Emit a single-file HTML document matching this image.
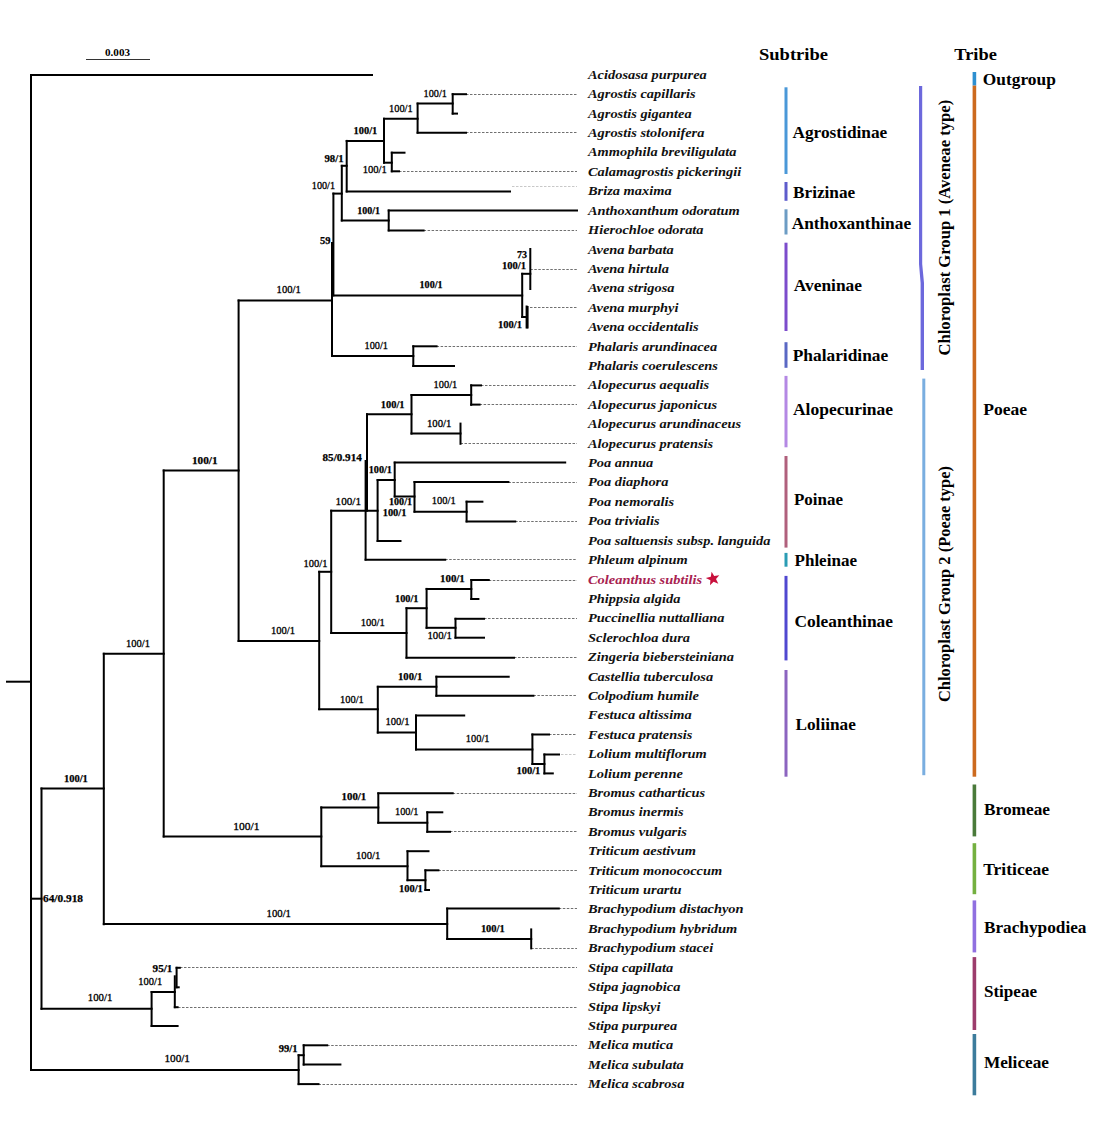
<!DOCTYPE html><html><head><meta charset="utf-8"><title>Phylogenetic tree</title>
<style>html,body{margin:0;padding:0;background:#fff;}body{width:1100px;height:1127px;overflow:hidden;}svg{display:block;font-family:"Liberation Serif",serif;}</style></head><body>
<svg width="1100" height="1127" viewBox="0 0 1100 1127">
<rect width="1100" height="1127" fill="#fff"/>
<line x1="86" y1="59.5" x2="150" y2="59.5" stroke="#333" stroke-width="1"/>
<text x="105" y="56" font-size="10.5" font-weight="bold" textLength="25" lengthAdjust="spacingAndGlyphs">0.003</text>
<g stroke="#707070" stroke-width="1" stroke-dasharray="2.5 1.5">
<line x1="466" y1="94.5" x2="577" y2="94.5"/>
<line x1="466" y1="132.5" x2="577" y2="132.5"/>
<line x1="399" y1="171.5" x2="577" y2="171.5"/>
<line x1="423.6" y1="230.5" x2="577" y2="230.5"/>
<line x1="530.3" y1="269.5" x2="577" y2="269.5"/>
<line x1="530" y1="307.5" x2="577" y2="307.5"/>
<line x1="436.6" y1="346.5" x2="577" y2="346.5"/>
<line x1="481" y1="385.5" x2="577" y2="385.5"/>
<line x1="479.6" y1="404.5" x2="577" y2="404.5"/>
<line x1="460.5" y1="443.5" x2="577" y2="443.5"/>
<line x1="508.4" y1="482.5" x2="577" y2="482.5"/>
<line x1="515.2" y1="521.5" x2="577" y2="521.5"/>
<line x1="445.2" y1="559.5" x2="577" y2="559.5"/>
<line x1="488.8" y1="580.5" x2="577" y2="580.5"/>
<line x1="484" y1="618.5" x2="577" y2="618.5"/>
<line x1="514" y1="657.5" x2="577" y2="657.5"/>
<line x1="533.4" y1="695.5" x2="577" y2="695.5"/>
<line x1="549" y1="734.5" x2="577" y2="734.5"/>
<line x1="452.7" y1="793.5" x2="577" y2="793.5"/>
<line x1="450" y1="831.5" x2="577" y2="831.5"/>
<line x1="438.4" y1="870.5" x2="577" y2="870.5"/>
<line x1="558.8" y1="908.5" x2="577" y2="908.5"/>
<line x1="531.2" y1="948.5" x2="577" y2="948.5"/>
<line x1="180" y1="967.5" x2="577" y2="967.5"/>
<line x1="178" y1="1007.5" x2="577" y2="1007.5"/>
<line x1="327.2" y1="1045.5" x2="577" y2="1045.5"/>
<line x1="318.5" y1="1084.5" x2="577" y2="1084.5"/>
</g>
<g stroke="#c8c8c8" stroke-width="1" stroke-dasharray="2.5 1.5"><line x1="512" y1="186.5" x2="577" y2="186.5"/><line x1="561" y1="754.5" x2="577" y2="754.5"/></g>
<g stroke="#000" stroke-width="2" stroke-linecap="square">
<line x1="31" y1="75" x2="31" y2="1070"/>
<line x1="41.5" y1="788.5" x2="41.5" y2="1008.8"/>
<line x1="103.8" y1="653.7" x2="103.8" y2="924.2"/>
<line x1="163.7" y1="470.5" x2="163.7" y2="836.5"/>
<line x1="238.6" y1="300.5" x2="238.6" y2="641"/>
<line x1="333.4" y1="193.6" x2="333.4" y2="295.4"/>
<line x1="332" y1="243" x2="332" y2="356"/>
<line x1="341.8" y1="165.8" x2="341.8" y2="220.5"/>
<line x1="346.7" y1="140.9" x2="346.7" y2="191.5"/>
<line x1="384" y1="118.7" x2="384" y2="162.7"/>
<line x1="417.6" y1="103.6" x2="417.6" y2="132.7"/>
<line x1="452.7" y1="94.2" x2="452.7" y2="113.6"/>
<line x1="391.8" y1="152.7" x2="391.8" y2="171.3"/>
<line x1="388.7" y1="210.5" x2="388.7" y2="230.4"/>
<line x1="522.2" y1="273.8" x2="522.2" y2="317"/>
<line x1="530.3" y1="249" x2="530.3" y2="289"/>
<line x1="526.6" y1="306.5" x2="526.6" y2="327.5"/>
<line x1="527.6" y1="307" x2="527.6" y2="327.5"/>
<line x1="413.3" y1="346.3" x2="413.3" y2="366"/>
<line x1="319.2" y1="571.8" x2="319.2" y2="709.2"/>
<line x1="331.2" y1="510.7" x2="331.2" y2="632.9"/>
<line x1="367" y1="414.3" x2="367" y2="510.7"/>
<line x1="365.6" y1="461" x2="365.6" y2="559.6"/>
<line x1="411.5" y1="395" x2="411.5" y2="433.6"/>
<line x1="471.2" y1="385.3" x2="471.2" y2="404.8"/>
<line x1="460.5" y1="423.6" x2="460.5" y2="443.8"/>
<line x1="377.6" y1="480" x2="377.6" y2="541"/>
<line x1="394.7" y1="462.6" x2="394.7" y2="496.5"/>
<line x1="414.5" y1="482" x2="414.5" y2="511.7"/>
<line x1="466.6" y1="501.7" x2="466.6" y2="521.4"/>
<line x1="406.5" y1="608.2" x2="406.5" y2="657.6"/>
<line x1="426.6" y1="588.9" x2="426.6" y2="627.8"/>
<line x1="471.3" y1="580" x2="471.3" y2="599"/>
<line x1="455.5" y1="618.8" x2="455.5" y2="637.7"/>
<line x1="377.8" y1="686.8" x2="377.8" y2="732.6"/>
<line x1="436.4" y1="676.7" x2="436.4" y2="695.8"/>
<line x1="416" y1="715.5" x2="416" y2="749.6"/>
<line x1="532.4" y1="734.5" x2="532.4" y2="764"/>
<line x1="544.4" y1="754.5" x2="544.4" y2="773.4"/>
<line x1="321.3" y1="807.4" x2="321.3" y2="866.2"/>
<line x1="378.3" y1="793.4" x2="378.3" y2="822.7"/>
<line x1="427.3" y1="812.3" x2="427.3" y2="831.8"/>
<line x1="407.5" y1="851.3" x2="407.5" y2="880.2"/>
<line x1="425.4" y1="870.3" x2="425.4" y2="890"/>
<line x1="447.2" y1="908.6" x2="447.2" y2="938.9"/>
<line x1="531.2" y1="929.4" x2="531.2" y2="948.4"/>
<line x1="151.6" y1="992" x2="151.6" y2="1026"/>
<line x1="176.6" y1="967.8" x2="176.6" y2="987.3"/>
<line x1="174.8" y1="976.3" x2="174.8" y2="1007.2"/>
<line x1="298.6" y1="1055.2" x2="298.6" y2="1084.1"/>
<line x1="303.7" y1="1045.3" x2="303.7" y2="1064.6"/>
<line x1="31" y1="75" x2="372" y2="75"/>
<line x1="7" y1="681.7" x2="31" y2="681.7"/>
<line x1="31" y1="898.7" x2="41.5" y2="898.7"/>
<line x1="31" y1="1070" x2="298.6" y2="1070"/>
<line x1="41.5" y1="788.5" x2="103.8" y2="788.5"/>
<line x1="41.5" y1="1008.8" x2="151.6" y2="1008.8"/>
<line x1="103.8" y1="653.7" x2="163.7" y2="653.7"/>
<line x1="103.8" y1="924" x2="447.2" y2="924"/>
<line x1="163.7" y1="470.5" x2="238.6" y2="470.5"/>
<line x1="163.7" y1="836.5" x2="321.3" y2="836.5"/>
<line x1="238.6" y1="300.5" x2="332" y2="300.5"/>
<line x1="238.6" y1="641" x2="319.2" y2="641"/>
<line x1="333.4" y1="193.6" x2="341.8" y2="193.6"/>
<line x1="333.4" y1="295.4" x2="522.2" y2="295.4"/>
<line x1="332" y1="356" x2="413.3" y2="356"/>
<line x1="341.8" y1="165.8" x2="346.7" y2="165.8"/>
<line x1="341.8" y1="220.5" x2="388.7" y2="220.5"/>
<line x1="346.7" y1="140.9" x2="384" y2="140.9"/>
<line x1="346.7" y1="191.5" x2="510" y2="191.5"/>
<line x1="384" y1="118.7" x2="417.6" y2="118.7"/>
<line x1="384" y1="162.7" x2="391.8" y2="162.7"/>
<line x1="417.6" y1="103.6" x2="452.7" y2="103.6"/>
<line x1="417.6" y1="132.7" x2="466" y2="132.7"/>
<line x1="452.7" y1="94.2" x2="466" y2="94.2"/>
<line x1="452.7" y1="113.6" x2="457" y2="113.6"/>
<line x1="391.8" y1="152.7" x2="404.5" y2="152.7"/>
<line x1="391.8" y1="171.3" x2="399" y2="171.3"/>
<line x1="388.7" y1="210.5" x2="577" y2="210.5"/>
<line x1="388.7" y1="230.4" x2="423.6" y2="230.4"/>
<line x1="522.2" y1="273.8" x2="530.3" y2="273.8"/>
<line x1="522.2" y1="317" x2="526.6" y2="317"/>
<line x1="413.3" y1="346.3" x2="436.6" y2="346.3"/>
<line x1="413.3" y1="366" x2="454" y2="366"/>
<line x1="319.2" y1="571.8" x2="331.2" y2="571.8"/>
<line x1="319.2" y1="709.2" x2="377.8" y2="709.2"/>
<line x1="331.2" y1="510.7" x2="377.6" y2="510.7"/>
<line x1="331.2" y1="632.9" x2="406.5" y2="632.9"/>
<line x1="367" y1="414.3" x2="411.5" y2="414.3"/>
<line x1="365.6" y1="559.8" x2="445.2" y2="559.8"/>
<line x1="411.5" y1="395" x2="471.2" y2="395"/>
<line x1="411.5" y1="433.6" x2="460.5" y2="433.6"/>
<line x1="471.2" y1="385.4" x2="481" y2="385.4"/>
<line x1="471.2" y1="404.6" x2="479.6" y2="404.6"/>
<line x1="377.6" y1="480" x2="394.7" y2="480"/>
<line x1="377.6" y1="541" x2="400.5" y2="541"/>
<line x1="394.7" y1="462.6" x2="565.2" y2="462.6"/>
<line x1="394.7" y1="496.5" x2="414.5" y2="496.5"/>
<line x1="414.5" y1="482" x2="508.4" y2="482"/>
<line x1="414.5" y1="511.7" x2="466.6" y2="511.7"/>
<line x1="466.6" y1="501.7" x2="482.4" y2="501.7"/>
<line x1="466.6" y1="521.4" x2="515.2" y2="521.4"/>
<line x1="406.5" y1="608.2" x2="426.6" y2="608.2"/>
<line x1="406.5" y1="657.7" x2="514" y2="657.7"/>
<line x1="426.6" y1="588.9" x2="471.3" y2="588.9"/>
<line x1="426.6" y1="627.8" x2="455.5" y2="627.8"/>
<line x1="471.3" y1="580" x2="488.8" y2="580"/>
<line x1="471.3" y1="599" x2="478.4" y2="599"/>
<line x1="455.5" y1="618.8" x2="484" y2="618.8"/>
<line x1="455.5" y1="637.7" x2="484" y2="637.7"/>
<line x1="377.8" y1="686.8" x2="436.4" y2="686.8"/>
<line x1="377.8" y1="732.6" x2="416" y2="732.6"/>
<line x1="436.4" y1="676.7" x2="508.7" y2="676.7"/>
<line x1="436.4" y1="695.7" x2="533.4" y2="695.7"/>
<line x1="416" y1="715.5" x2="464.2" y2="715.5"/>
<line x1="416" y1="749.6" x2="532.4" y2="749.6"/>
<line x1="532.4" y1="734.5" x2="549" y2="734.5"/>
<line x1="532.4" y1="764" x2="544.4" y2="764"/>
<line x1="544.4" y1="754.5" x2="559" y2="754.5"/>
<line x1="544.4" y1="773.4" x2="552.8" y2="773.4"/>
<line x1="321.3" y1="807.4" x2="378.3" y2="807.4"/>
<line x1="321.3" y1="866.2" x2="407.5" y2="866.2"/>
<line x1="378.3" y1="793.2" x2="452.7" y2="793.2"/>
<line x1="378.3" y1="822.7" x2="427.3" y2="822.7"/>
<line x1="427.3" y1="812.3" x2="442.3" y2="812.3"/>
<line x1="427.3" y1="831.8" x2="450" y2="831.8"/>
<line x1="407.5" y1="851.2" x2="428.5" y2="851.2"/>
<line x1="407.5" y1="880.2" x2="425.4" y2="880.2"/>
<line x1="425.4" y1="870.3" x2="438.4" y2="870.3"/>
<line x1="425.4" y1="890" x2="429" y2="890"/>
<line x1="447.2" y1="908.6" x2="558.8" y2="908.6"/>
<line x1="447.2" y1="938.9" x2="531.2" y2="938.9"/>
<line x1="151.6" y1="992" x2="174.8" y2="992"/>
<line x1="151.6" y1="1026" x2="177.6" y2="1026"/>
<line x1="176.6" y1="987.3" x2="178.7" y2="987.3"/>
<line x1="176.6" y1="967.8" x2="179.8" y2="967.8"/>
<line x1="174.8" y1="1007.2" x2="177.6" y2="1007.2"/>
<line x1="298.6" y1="1055.2" x2="303.7" y2="1055.2"/>
<line x1="298.6" y1="1084.1" x2="318.5" y2="1084.1"/>
<line x1="303.7" y1="1045.3" x2="327.2" y2="1045.3"/>
<line x1="303.7" y1="1064.6" x2="340.4" y2="1064.6"/>
</g>
<g font-size="10.5" fill="#000">
<text x="423.6" y="96.9" stroke="#000" stroke-width="0.3" textLength="23.3" lengthAdjust="spacingAndGlyphs">100/1</text>
<text x="389" y="111.5" stroke="#000" stroke-width="0.3" textLength="23.7" lengthAdjust="spacingAndGlyphs">100/1</text>
<text x="353.6" y="133.6" font-weight="bold" stroke="#000" stroke-width="0.25" textLength="23.7" lengthAdjust="spacingAndGlyphs">100/1</text>
<text x="324.5" y="162.4" font-weight="bold" stroke="#000" stroke-width="0.25" textLength="19.1" lengthAdjust="spacingAndGlyphs">98/1</text>
<text x="362.7" y="172.7" stroke="#000" stroke-width="0.3" textLength="24.2" lengthAdjust="spacingAndGlyphs">100/1</text>
<text x="311.8" y="189.1" stroke="#000" stroke-width="0.3" textLength="23.2" lengthAdjust="spacingAndGlyphs">100/1</text>
<text x="357.3" y="213.6" font-weight="bold" stroke="#000" stroke-width="0.25" textLength="22.7" lengthAdjust="spacingAndGlyphs">100/1</text>
<text x="320" y="244" font-weight="bold" stroke="#000" stroke-width="0.25" textLength="10.5" lengthAdjust="spacingAndGlyphs">59</text>
<text x="517" y="258" font-weight="bold" stroke="#000" stroke-width="0.25" textLength="10" lengthAdjust="spacingAndGlyphs">73</text>
<text x="502" y="269.4" font-weight="bold" stroke="#000" stroke-width="0.25" textLength="24" lengthAdjust="spacingAndGlyphs">100/1</text>
<text x="419.6" y="288" font-weight="bold" stroke="#000" stroke-width="0.25" textLength="22.9" lengthAdjust="spacingAndGlyphs">100/1</text>
<text x="498" y="328" font-weight="bold" stroke="#000" stroke-width="0.25" textLength="24" lengthAdjust="spacingAndGlyphs">100/1</text>
<text x="364.5" y="349" stroke="#000" stroke-width="0.3" textLength="23.5" lengthAdjust="spacingAndGlyphs">100/1</text>
<text x="276.6" y="293" stroke="#000" stroke-width="0.3" textLength="24.2" lengthAdjust="spacingAndGlyphs">100/1</text>
<text x="380.8" y="407.6" font-weight="bold" stroke="#000" stroke-width="0.25" textLength="23.7" lengthAdjust="spacingAndGlyphs">100/1</text>
<text x="433.6" y="387.8" stroke="#000" stroke-width="0.3" textLength="23.7" lengthAdjust="spacingAndGlyphs">100/1</text>
<text x="427" y="427.2" stroke="#000" stroke-width="0.3" textLength="24.4" lengthAdjust="spacingAndGlyphs">100/1</text>
<text x="322.5" y="460.9" font-weight="bold" stroke="#000" stroke-width="0.25" textLength="39.3" lengthAdjust="spacingAndGlyphs">85/0.914</text>
<text x="368.7" y="472.5" font-weight="bold" stroke="#000" stroke-width="0.25" textLength="23.3" lengthAdjust="spacingAndGlyphs">100/1</text>
<text x="389" y="505.4" font-weight="bold" stroke="#000" stroke-width="0.25" textLength="23" lengthAdjust="spacingAndGlyphs">100/1</text>
<text x="382.7" y="515.5" font-weight="bold" stroke="#000" stroke-width="0.25" textLength="23.7" lengthAdjust="spacingAndGlyphs">100/1</text>
<text x="431.8" y="504.4" stroke="#000" stroke-width="0.3" textLength="23.9" lengthAdjust="spacingAndGlyphs">100/1</text>
<text x="335.6" y="504.9" stroke="#000" stroke-width="0.3" textLength="25.4" lengthAdjust="spacingAndGlyphs">100/1</text>
<text x="303.5" y="566.7" stroke="#000" stroke-width="0.3" textLength="23.9" lengthAdjust="spacingAndGlyphs">100/1</text>
<text x="270.9" y="633.6" stroke="#000" stroke-width="0.3" textLength="24.1" lengthAdjust="spacingAndGlyphs">100/1</text>
<text x="360.7" y="625.8" stroke="#000" stroke-width="0.3" textLength="24.2" lengthAdjust="spacingAndGlyphs">100/1</text>
<text x="395" y="601.8" font-weight="bold" stroke="#000" stroke-width="0.25" textLength="23.5" lengthAdjust="spacingAndGlyphs">100/1</text>
<text x="440" y="582" font-weight="bold" stroke="#000" stroke-width="0.25" textLength="24.8" lengthAdjust="spacingAndGlyphs">100/1</text>
<text x="427.4" y="638.7" stroke="#000" stroke-width="0.3" textLength="24.6" lengthAdjust="spacingAndGlyphs">100/1</text>
<text x="340" y="702.8" stroke="#000" stroke-width="0.3" textLength="23.8" lengthAdjust="spacingAndGlyphs">100/1</text>
<text x="398" y="680" font-weight="bold" stroke="#000" stroke-width="0.25" textLength="24.3" lengthAdjust="spacingAndGlyphs">100/1</text>
<text x="385.4" y="725.2" stroke="#000" stroke-width="0.3" textLength="24.2" lengthAdjust="spacingAndGlyphs">100/1</text>
<text x="465.8" y="742.4" stroke="#000" stroke-width="0.3" textLength="23.7" lengthAdjust="spacingAndGlyphs">100/1</text>
<text x="516.4" y="774.2" font-weight="bold" stroke="#000" stroke-width="0.25" textLength="24" lengthAdjust="spacingAndGlyphs">100/1</text>
<text x="192" y="464.2" font-weight="bold" stroke="#000" stroke-width="0.25" textLength="25.6" lengthAdjust="spacingAndGlyphs">100/1</text>
<text x="126" y="646.6" stroke="#000" stroke-width="0.3" textLength="24" lengthAdjust="spacingAndGlyphs">100/1</text>
<text x="63.9" y="782" font-weight="bold" stroke="#000" stroke-width="0.25" textLength="23.9" lengthAdjust="spacingAndGlyphs">100/1</text>
<text x="43" y="901.9" font-weight="bold" stroke="#000" stroke-width="0.25" textLength="40" lengthAdjust="spacingAndGlyphs">64/0.918</text>
<text x="233.2" y="830.3" stroke="#000" stroke-width="0.3" textLength="26.2" lengthAdjust="spacingAndGlyphs">100/1</text>
<text x="341.6" y="800" font-weight="bold" stroke="#000" stroke-width="0.25" textLength="24.7" lengthAdjust="spacingAndGlyphs">100/1</text>
<text x="395" y="815" stroke="#000" stroke-width="0.3" textLength="23.5" lengthAdjust="spacingAndGlyphs">100/1</text>
<text x="356" y="859" stroke="#000" stroke-width="0.3" textLength="24.3" lengthAdjust="spacingAndGlyphs">100/1</text>
<text x="398.9" y="892.1" font-weight="bold" stroke="#000" stroke-width="0.25" textLength="23.9" lengthAdjust="spacingAndGlyphs">100/1</text>
<text x="266.5" y="916.8" stroke="#000" stroke-width="0.3" textLength="24.5" lengthAdjust="spacingAndGlyphs">100/1</text>
<text x="480.9" y="931.8" font-weight="bold" stroke="#000" stroke-width="0.25" textLength="23.8" lengthAdjust="spacingAndGlyphs">100/1</text>
<text x="152.6" y="972" font-weight="bold" stroke="#000" stroke-width="0.25" textLength="19.8" lengthAdjust="spacingAndGlyphs">95/1</text>
<text x="138.3" y="984.9" stroke="#000" stroke-width="0.3" textLength="23.9" lengthAdjust="spacingAndGlyphs">100/1</text>
<text x="87.8" y="1001.2" stroke="#000" stroke-width="0.3" textLength="24.6" lengthAdjust="spacingAndGlyphs">100/1</text>
<text x="278.8" y="1051.9" font-weight="bold" stroke="#000" stroke-width="0.25" textLength="18.7" lengthAdjust="spacingAndGlyphs">99/1</text>
<text x="164.4" y="1062.3" stroke="#000" stroke-width="0.3" textLength="25.6" lengthAdjust="spacingAndGlyphs">100/1</text>
</g>
<g font-size="12" font-weight="bold" font-style="italic" fill="#111">
<text transform="translate(588,78.8) scale(1.2,1)">Acidosasa purpurea</text>
<text transform="translate(588,98.2) scale(1.2,1)">Agrostis capillaris</text>
<text transform="translate(588,117.6) scale(1.2,1)">Agrostis gigantea</text>
<text transform="translate(588,137) scale(1.2,1)">Agrostis stolonifera</text>
<text transform="translate(588,156.4) scale(1.2,1)">Ammophila breviligulata</text>
<text transform="translate(588,175.9) scale(1.2,1)">Calamagrostis pickeringii</text>
<text transform="translate(588,195.3) scale(1.2,1)">Briza maxima</text>
<text transform="translate(588,214.7) scale(1.2,1)">Anthoxanthum odoratum</text>
<text transform="translate(588,234.1) scale(1.2,1)">Hierochloe odorata</text>
<text transform="translate(588,253.5) scale(1.2,1)">Avena barbata</text>
<text transform="translate(588,272.9) scale(1.2,1)">Avena hirtula</text>
<text transform="translate(588,292.3) scale(1.2,1)">Avena strigosa</text>
<text transform="translate(588,311.7) scale(1.2,1)">Avena murphyi</text>
<text transform="translate(588,331.1) scale(1.2,1)">Avena occidentalis</text>
<text transform="translate(588,350.5) scale(1.2,1)">Phalaris arundinacea</text>
<text transform="translate(588,369.9) scale(1.2,1)">Phalaris coerulescens</text>
<text transform="translate(588,389.4) scale(1.2,1)">Alopecurus aequalis</text>
<text transform="translate(588,408.8) scale(1.2,1)">Alopecurus japonicus</text>
<text transform="translate(588,428.2) scale(1.2,1)">Alopecurus arundinaceus</text>
<text transform="translate(588,447.6) scale(1.2,1)">Alopecurus pratensis</text>
<text transform="translate(588,467) scale(1.2,1)">Poa annua</text>
<text transform="translate(588,486.4) scale(1.2,1)">Poa diaphora</text>
<text transform="translate(588,505.8) scale(1.2,1)">Poa nemoralis</text>
<text transform="translate(588,525.2) scale(1.2,1)">Poa trivialis</text>
<text transform="translate(588,544.6) scale(1.2,1)">Poa saltuensis subsp. languida</text>
<text transform="translate(588,564) scale(1.2,1)">Phleum alpinum</text>
<text transform="translate(588,583.5) scale(1.2,1)" fill="#a82250">Coleanthus subtilis</text>
<text transform="translate(588,602.9) scale(1.2,1)">Phippsia algida</text>
<text transform="translate(588,622.3) scale(1.2,1)">Puccinellia nuttalliana</text>
<text transform="translate(588,641.7) scale(1.2,1)">Sclerochloa dura</text>
<text transform="translate(588,661.1) scale(1.2,1)">Zingeria biebersteiniana</text>
<text transform="translate(588,680.5) scale(1.2,1)">Castellia tuberculosa</text>
<text transform="translate(588,699.9) scale(1.2,1)">Colpodium humile</text>
<text transform="translate(588,719.3) scale(1.2,1)">Festuca altissima</text>
<text transform="translate(588,738.7) scale(1.2,1)">Festuca pratensis</text>
<text transform="translate(588,758.1) scale(1.2,1)">Lolium multiflorum</text>
<text transform="translate(588,777.6) scale(1.2,1)">Lolium perenne</text>
<text transform="translate(588,797) scale(1.2,1)">Bromus catharticus</text>
<text transform="translate(588,816.4) scale(1.2,1)">Bromus inermis</text>
<text transform="translate(588,835.8) scale(1.2,1)">Bromus vulgaris</text>
<text transform="translate(588,855.2) scale(1.2,1)">Triticum aestivum</text>
<text transform="translate(588,874.6) scale(1.2,1)">Triticum monococcum</text>
<text transform="translate(588,894) scale(1.2,1)">Triticum urartu</text>
<text transform="translate(588,913.4) scale(1.2,1)">Brachypodium distachyon</text>
<text transform="translate(588,932.8) scale(1.2,1)">Brachypodium hybridum</text>
<text transform="translate(588,952.2) scale(1.2,1)">Brachypodium stacei</text>
<text transform="translate(588,971.7) scale(1.2,1)">Stipa capillata</text>
<text transform="translate(588,991.1) scale(1.2,1)">Stipa jagnobica</text>
<text transform="translate(588,1010.5) scale(1.2,1)">Stipa lipskyi</text>
<text transform="translate(588,1029.9) scale(1.2,1)">Stipa purpurea</text>
<text transform="translate(588,1049.3) scale(1.2,1)">Melica mutica</text>
<text transform="translate(588,1068.7) scale(1.2,1)">Melica subulata</text>
<text transform="translate(588,1088.1) scale(1.2,1)">Melica scabrosa</text>
</g>
<polygon points="711.6,571.7 714.2,576.1 719.3,575.3 716.0,579.1 718.3,583.7 713.6,581.7 710.0,585.3 710.4,580.3 705.8,578.0 710.8,576.8" fill="#c8103c"/>
<g font-size="17" font-weight="bold" fill="#000">
<text x="759" y="60" textLength="69" lengthAdjust="spacingAndGlyphs">Subtribe</text>
<text x="954.3" y="60" textLength="42.6" lengthAdjust="spacingAndGlyphs">Tribe</text>
<text x="792.4" y="138" textLength="94.9" lengthAdjust="spacingAndGlyphs">Agrostidinae</text>
<text x="793" y="197.5" textLength="62.2" lengthAdjust="spacingAndGlyphs">Brizinae</text>
<text x="791.7" y="228.6" textLength="119.4" lengthAdjust="spacingAndGlyphs">Anthoxanthinae</text>
<text x="793.7" y="290.8" textLength="68.3" lengthAdjust="spacingAndGlyphs">Aveninae</text>
<text x="792.7" y="360.6" textLength="95.5" lengthAdjust="spacingAndGlyphs">Phalaridinae</text>
<text x="793" y="414.7" textLength="100" lengthAdjust="spacingAndGlyphs">Alopecurinae</text>
<text x="794" y="505" textLength="49" lengthAdjust="spacingAndGlyphs">Poinae</text>
<text x="794.5" y="565.7" textLength="62.5" lengthAdjust="spacingAndGlyphs">Phleinae</text>
<text x="794.5" y="627" textLength="98.5" lengthAdjust="spacingAndGlyphs">Coleanthinae</text>
<text x="795.5" y="729.8" textLength="60.3" lengthAdjust="spacingAndGlyphs">Loliinae</text>
<text x="982.8" y="85.3" textLength="73" lengthAdjust="spacingAndGlyphs">Outgroup</text>
<text x="983.2" y="414.5" textLength="43.8" lengthAdjust="spacingAndGlyphs">Poeae</text>
<text x="984" y="815.4" textLength="66" lengthAdjust="spacingAndGlyphs">Bromeae</text>
<text x="983.2" y="875" textLength="65.8" lengthAdjust="spacingAndGlyphs">Triticeae</text>
<text x="983.9" y="932.7" textLength="102.6" lengthAdjust="spacingAndGlyphs">Brachypodiea</text>
<text x="983.9" y="997.3" textLength="53.1" lengthAdjust="spacingAndGlyphs">Stipeae</text>
<text x="983.9" y="1068.2" textLength="65.1" lengthAdjust="spacingAndGlyphs">Meliceae</text>
</g>
<rect x="784.5" y="87.3" width="3" height="86.7" fill="#4a98d8"/>
<rect x="784.5" y="182" width="3" height="18.8" fill="#5e5ccc"/>
<rect x="784.5" y="209.3" width="3" height="25.2" fill="#6c9cc4"/>
<rect x="784.5" y="242.7" width="3" height="88.3" fill="#7c4ccc"/>
<rect x="784.5" y="342.2" width="3" height="25.6" fill="#5a68c4"/>
<rect x="784.5" y="375.9" width="3" height="71.4" fill="#b488e4"/>
<rect x="784.5" y="456" width="3" height="91.6" fill="#b0607c"/>
<rect x="784.5" y="552.9" width="3" height="13.8" fill="#2a9cb4"/>
<rect x="784.5" y="575.9" width="3" height="84.5" fill="#5048d0"/>
<rect x="784.5" y="670" width="3" height="106.7" fill="#8c64c0"/>
<rect x="972.6" y="72" width="3.6" height="13.6" fill="#2d8fd0"/>
<rect x="972.6" y="85.6" width="3.6" height="691.1" fill="#cc6a1e"/>
<rect x="972.6" y="784.5" width="3.6" height="51.9" fill="#4a7a3a"/>
<rect x="972.6" y="843.2" width="3.6" height="51" fill="#74b040"/>
<rect x="972.6" y="900.4" width="3.6" height="52" fill="#9070e0"/>
<rect x="972.6" y="957.1" width="3.6" height="72.9" fill="#9c3c6c"/>
<rect x="972.6" y="1034" width="3.6" height="61.3" fill="#3c7c9c"/>
<polygon points="919,86 922.2,86 922.2,264 924,283 924,370 920.6,370 920.6,283 919,264" fill="#6c68dc"/>
<rect x="922.3" y="378.6" width="3" height="396.6" fill="#7aaee0"/>
<text transform="translate(949.5,355.5) rotate(-90)" font-size="16.5" font-weight="bold" fill="#000" textLength="255.7" lengthAdjust="spacingAndGlyphs">Chloroplast Group 1 (Aveneae type)</text>
<text transform="translate(949.5,702) rotate(-90)" font-size="16.5" font-weight="bold" fill="#000" textLength="236" lengthAdjust="spacingAndGlyphs">Chloroplast Group 2 (Poeae type)</text>
</svg></body></html>
